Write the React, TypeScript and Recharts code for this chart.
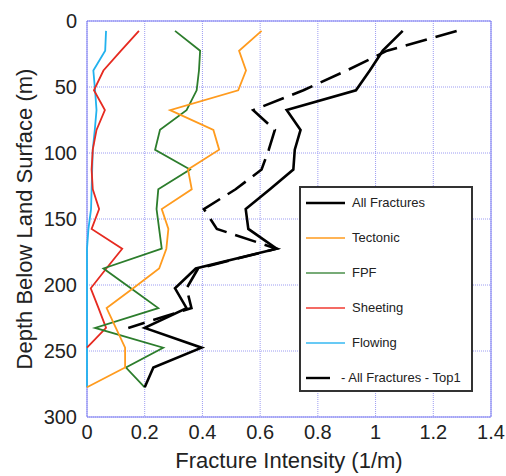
import React from 'react';
import {
  ScatterChart, Scatter, XAxis, YAxis, CartesianGrid, ReferenceLine
} from 'recharts';

// depth of each sample (m), one per 15 m interval
const depths = [7.5, 22.5, 37.5, 52.5, 67.5, 82.5, 97.5, 112.5, 127.5, 142.5, 157.5, 172.5, 187.5, 202.5, 217.5, 232.5, 247.5, 262.5, 277.5];

// fracture intensity (1/m) per depth
const allFractures = [1.094, 1.025, 0.98, 0.932, 0.692, 0.74, 0.72, 0.715, 0.634, 0.55, 0.559, 0.657, 0.377, 0.305, 0.345, 0.2, 0.397, 0.23, 0.2];
const tectonic = [0.605, 0.527, 0.551, 0.524, 0.288, 0.438, 0.458, 0.35, 0.363, 0.259, 0.282, 0.275, 0.25, 0.16, 0.068, 0.1, 0.132, 0.132, 0];
const fpf = [0.305, 0.392, 0.388, 0.38, 0.345, 0.253, 0.236, 0.357, 0.247, 0.241, 0.25, 0.259, 0.057, 0.152, 0.247, 0.028, 0.264, 0.135, 0.2];
const sheeting = [0.18, 0.118, 0.057, 0.024, 0.062, 0.033, 0.02, 0.016, 0.02, 0.042, 0.016, 0.122, 0.067, 0.013, 0.04, 0.066, 0, null, null];
const flowing = [0.066, 0.063, 0.022, 0.028, 0.033, 0.027, 0.02, 0.018, 0.016, 0.014, 0.005, 0, 0, 0, 0, 0, 0, 0, 0];
const allTop1 = [1.281, 1.04, 0.9, 0.75, 0.576, 0.651, 0.63, 0.605, 0.515, 0.405, 0.45, 0.657, 0.385, 0.345, 0.362, 0.143, null, null, null];

const xTicks = [0, 0.2, 0.4, 0.6, 0.8, 1, 1.2, 1.4];
const yTicks = [0, 50, 100, 150, 200, 250, 300];

const toPoints = (vals: (number | null)[]) =>
  vals
    .map((v, i) => (v === null ? null : { x: v, y: depths[i] }))
    .filter((p): p is { x: number; y: number } => p !== null);

const series = [
  { name: 'Flowing', vals: flowing, color: '#22b2ee', width: 1.8 },
  { name: 'Sheeting', vals: sheeting, color: '#e62a20', width: 1.8 },
  { name: 'FPF', vals: fpf, color: '#2c7d2c', width: 1.8 },
  { name: 'Tectonic', vals: tectonic, color: '#ff9b1e', width: 1.8 },
  { name: 'All Fractures - Top1', vals: allTop1, color: '#000', width: 2.6, dash: '22 9' },
  { name: 'All Fractures', vals: allFractures, color: '#000', width: 2.6 },
];

const legendItems = [
  { label: 'All Fractures', color: '#000', width: 2.4 },
  { label: 'Tectonic', color: '#ff9b1e', width: 1.6 },
  { label: 'FPF', color: '#4a8f4a', width: 1.6 },
  { label: 'Sheeting', color: '#f03a30', width: 1.6 },
  { label: 'Flowing', color: '#36b8f2', width: 1.6 },
  { label: '- All Fractures - Top1', color: '#000', width: 2.4, dash: true },
];

const FRAME = '#7a7af2';
const fmtX = (v: number) => (v === 0 || v === 1 ? String(v) : v.toFixed(1));

const Legend = () => (
  <div
    style={{
      position: 'absolute', left: 299, top: 186, width: 170, height: 202,
      border: '2px solid #333', background: '#fff', fontSize: 13, color: '#222'
    }}
  >
    {legendItems.map((it, i) => (
      <div key={it.label} style={{ position: 'absolute', left: 0, top: 15 + i * 35 - 9, height: 18, width: 170 }}>
        <svg width={42} height={18} style={{ position: 'absolute', left: 5, top: 0 }}>
          {it.dash ? (
            <line x1={0} y1={9} x2={24} y2={9} stroke={it.color} strokeWidth={it.width} />
          ) : (
            <line x1={0} y1={9} x2={39} y2={9} stroke={it.color} strokeWidth={it.width} />
          )}
        </svg>
        <span style={{ position: 'absolute', left: it.dash ? 40 : 51, top: 0, lineHeight: '18px', whiteSpace: 'nowrap' }}>
          {it.label}
        </span>
      </div>
    ))}
  </div>
);

export default function App() {
  return (
    <div
      style={{
        position: 'absolute', left: 0, top: 0, width: 506, height: 476,
        background: '#fff', fontFamily: '"Liberation Sans", Arial, sans-serif'
      }}
    >
      <ScatterChart width={506} height={476} margin={{ top: 21, right: 15, bottom: 0, left: 0 }}>
        <CartesianGrid stroke="#9c9cf2" strokeDasharray="1 1" />
        <XAxis
          type="number"
          dataKey="x"
          domain={[0, 1.4]}
          ticks={xTicks}
          tickFormatter={fmtX}
          height={59}
          tickLine={false}
          tickMargin={2}
          axisLine={{ stroke: FRAME }}
          tick={{ fontSize: 20, fill: '#222' }}
          label={{ value: 'Fracture Intensity (1/m)', position: 'insideBottom', offset: 8, fontSize: 22, fill: '#222' }}
        />
        <YAxis
          type="number"
          dataKey="y"
          reversed
          domain={[0, 300]}
          ticks={yTicks}
          width={87}
          tickLine={false}
          tickMargin={4}
          axisLine={{ stroke: FRAME }}
          tick={{ fontSize: 20, fill: '#222' }}
          label={{
            value: 'Depth Below Land Surface (m)', angle: -90, position: 'insideLeft',
            offset: 24, fontSize: 22, fill: '#222', style: { textAnchor: 'middle' }
          }}
        />
        <ReferenceLine y={0} stroke={FRAME} />
        <ReferenceLine x={1.4} stroke={FRAME} />
        {series.map((s) => (
          <Scatter
            key={s.name}
            name={s.name}
            data={toPoints(s.vals)}
            fill={s.color}
            line={{ stroke: s.color, strokeWidth: s.width, strokeDasharray: s.dash }}
            lineType="joint"
            shape={() => <g />}
            isAnimationActive={false}
          />
        ))}
      </ScatterChart>
      <Legend />
    </div>
  );
}
